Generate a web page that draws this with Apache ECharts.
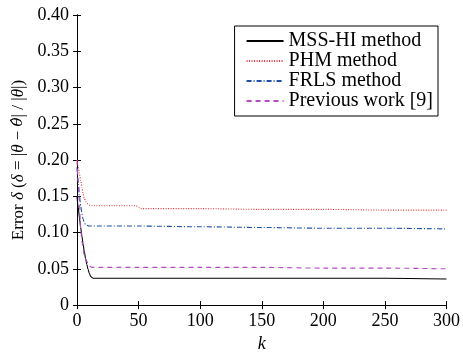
<!DOCTYPE html>
<html>
<head>
<meta charset="utf-8">
<script src="https://cdn.jsdelivr.net/npm/echarts@6/dist/echarts.min.js"></script>
<style>
  html, body {margin: 0; padding: 0; background: #fff;}
  #chart {width: 463px; height: 358px;}
</style>
</head>
<body>
<div id="chart"></div>
<script>
const xTicks = [0, 50, 100, 150, 200, 250, 300];
const yTicks = [0, 0.05, 0.1, 0.15, 0.2, 0.25, 0.3, 0.35, 0.4];

// MSS-HI method
const kMss = [0, 1, 2, 3, 4, 5, 6, 7, 8, 9, 10, 11, 12, 13, 20, 50, 100, 150, 200, 250, 300];
const errMss = [0.150, 0.135, 0.120, 0.107, 0.095, 0.083, 0.073, 0.064, 0.056, 0.049, 0.044, 0.040, 0.038, 0.037, 0.037, 0.037, 0.037, 0.037, 0.037, 0.037, 0.036];

// PHM method
const kPhm = [0, 1, 2, 3, 4, 5, 6, 7, 8, 10, 12, 15, 20, 30, 40, 45, 48, 50, 52, 60, 100, 150, 200, 250, 300];
const errPhm = [0.200, 0.190, 0.180, 0.172, 0.162, 0.153, 0.147, 0.143, 0.140, 0.138, 0.137, 0.137, 0.137, 0.137, 0.137, 0.137, 0.137, 0.135, 0.133, 0.133, 0.133, 0.132, 0.132, 0.131, 0.131];

// FRLS method
const kFrls = [0, 1, 2, 3, 4, 5, 6, 7, 8, 10, 20, 50, 100, 150, 200, 250, 300];
const errFrls = [0.190, 0.170, 0.150, 0.137, 0.126, 0.118, 0.113, 0.111, 0.110, 0.109, 0.109, 0.109, 0.108, 0.107, 0.106, 0.106, 0.105];

// Previous work [9]
const kPrev = [0, 1, 2, 3, 4, 5, 6, 7, 8, 9, 10, 11, 12, 20, 50, 100, 150, 200, 250, 300];
const errPrev = [0.200, 0.170, 0.140, 0.105, 0.088, 0.076, 0.068, 0.063, 0.060, 0.057, 0.054, 0.053, 0.052, 0.052, 0.052, 0.052, 0.052, 0.051, 0.051, 0.050];

const names = ['MSS-HI method', 'PHM method', 'FRLS method', 'Previous work [9]'];

const chart = echarts.init(document.getElementById('chart'));
const font = '"Liberation Serif", serif';
const pairs = (ks, vs) => ks.map((k, i) => [k, vs[i]]);

const serif = size => ({fontFamily: font, fontSize: size, color: '#000'});

const lineSeries = (name, data, color, type) => ({
  name,
  type: 'line',
  data,
  symbol: 'none',
  smooth: 0.3,
  smoothMonotone: 'x',
  lineStyle: {color, width: 1.1, type},
  itemStyle: {color},
  z: 3,
});

// top / right copies of the axes, only for the box and inward ticks
const hiddenAxis = {
  type: 'value',
  axisLine: {show: true, lineStyle: {color: '#000', width: 1}},
  axisTick: {show: true, inside: true, length: 4, lineStyle: {color: '#000'}},
  axisLabel: {show: false},
  splitLine: {show: false},
};

const option = {
  animation: false,
  backgroundColor: '#fff',
  textStyle: {fontFamily: font, color: '#000'},
  grid: {left: 77, right: 13, top: 15, bottom: 49},
  legend: {
    orient: 'vertical',
    right: 25,
    top: 26,
    padding: [5, 5, 5, 11],
    itemWidth: 37,
    itemHeight: 2,
    itemGap: 0,
    itemStyle: {opacity: 0},
    backgroundColor: '#fff',
    borderColor: '#000',
    borderWidth: 1,
    borderRadius: 0,
    textStyle: Object.assign(serif(20), {lineHeight: 19}),
    data: names,
  },
  xAxis: [
    {
      type: 'value',
      min: 0,
      max: 300,
      interval: 50,
      name: 'k',
      nameLocation: 'middle',
      nameGap: 27,
      nameTextStyle: Object.assign(serif(18), {fontStyle: 'italic'}),
      axisLine: {show: true, onZero: false, lineStyle: {color: '#000', width: 1}},
      axisTick: {show: true, inside: true, length: 4, lineStyle: {color: '#000'}},
      axisLabel: Object.assign(serif(18), {margin: 7}),
      splitLine: {show: false},
    },
    Object.assign({}, hiddenAxis, {position: 'top', min: 0, max: 300, interval: 50}),
  ],
  yAxis: [
    {
      type: 'value',
      min: 0,
      max: 0.4,
      interval: 0.05,
      name: 'Error {i|δ} ({i|δ} = |{i|θ} − {h|θ̂}| / |{i|θ}|)',
      nameLocation: 'middle',
      nameGap: 50,
      nameTextStyle: Object.assign(serif(17), {
        rich: {
          i: Object.assign(serif(17), {fontStyle: 'italic'}),
          h: {fontFamily: '"DejaVu Serif", serif', fontSize: 15, fontStyle: 'italic', color: '#000'},
        },
      }),
      axisLine: {show: true, lineStyle: {color: '#000', width: 1}},
      axisTick: {show: true, inside: true, length: 4, lineStyle: {color: '#000'}},
      axisLabel: Object.assign(serif(18), {
        margin: 8,
        formatter: v => (v === 0 ? '0' : v.toFixed(2)),
      }),
      splitLine: {show: false},
    },
    Object.assign({}, hiddenAxis, {position: 'right', min: 0, max: 0.4, interval: 0.05}),
  ],
  series: [
    lineSeries(names[0], pairs(kMss, errMss), '#000000', 'solid'),
    lineSeries(names[1], pairs(kPhm, errPhm), '#e8303a', [1, 1.5]),
    lineSeries(names[2], pairs(kFrls, errFrls), '#1f4fa8', [5, 2, 1, 2]),
    lineSeries(names[3], pairs(kPrev, errPrev), '#b24cc0', [5, 4]),
  ],
};

chart.setOption(option);
</script>
</body>
</html>
